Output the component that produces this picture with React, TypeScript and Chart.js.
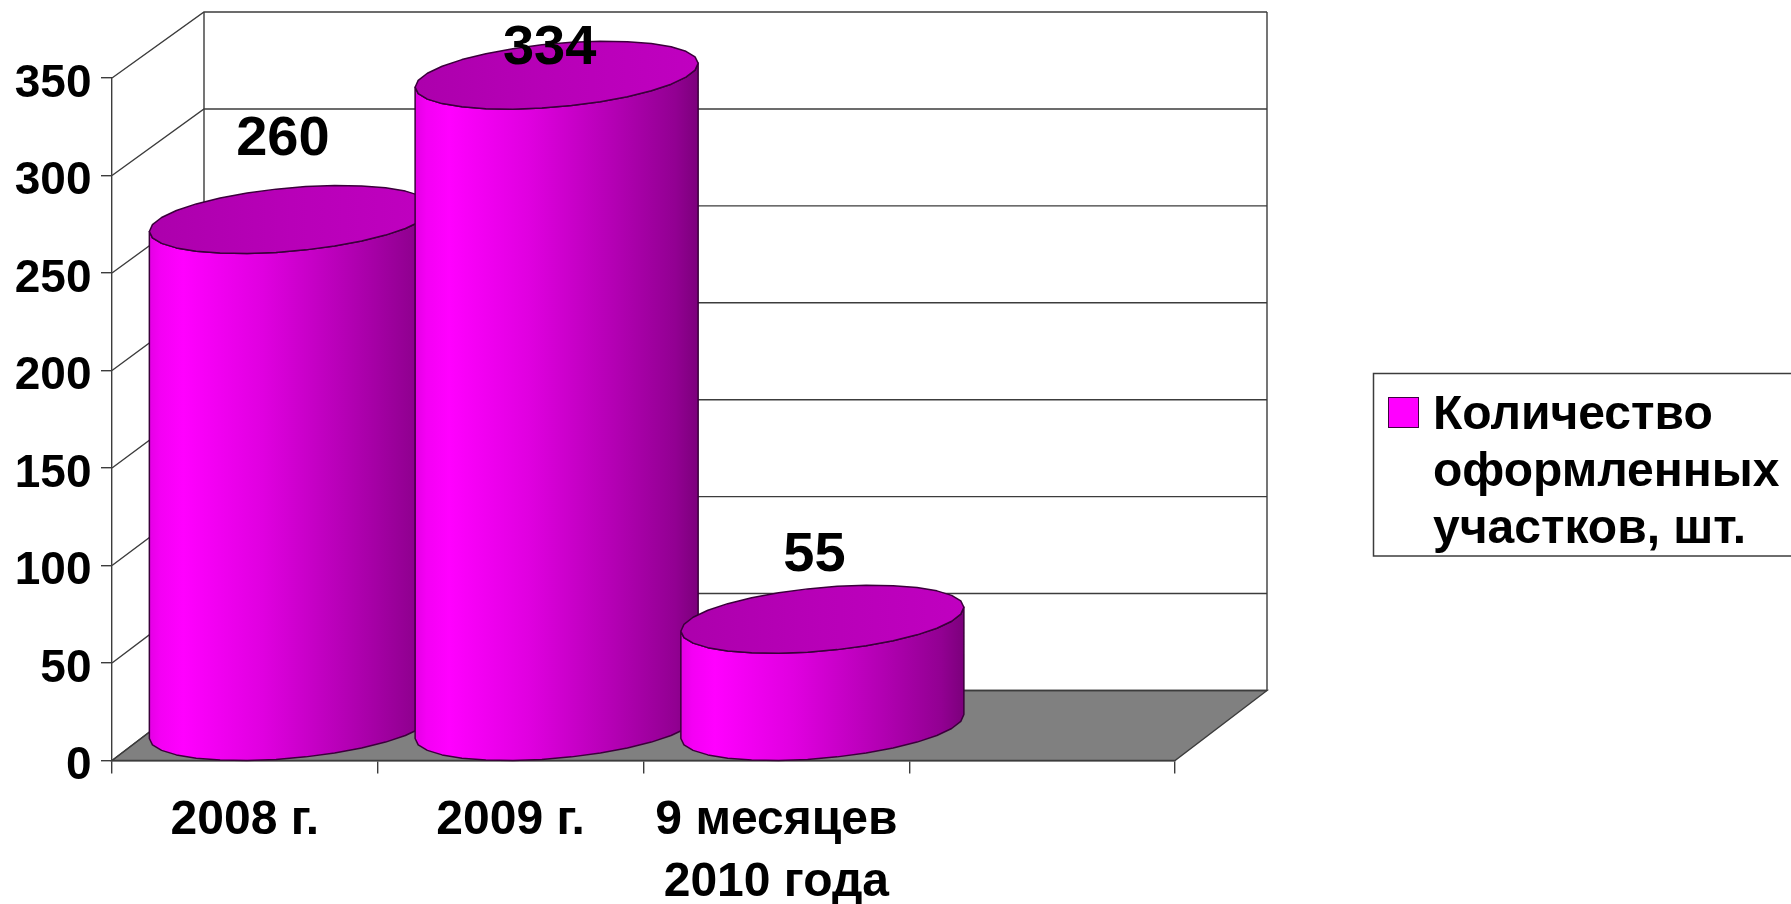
import React, { useEffect, useRef } from "react";
import { Chart, registerables } from "chart.js";

Chart.register(...registerables);

const categories: (string | string[])[] = ["2008 г.", "2009 г.", ["9 месяцев", "2010 года"], ""];
const seriesName = ["Количество", "оформленных", "участков, шт."];
const values: (number | null)[] = [260, 334, 55, null];
const valueLabels = ["260", "334", "55", ""];
const yMax = 350;
const yStep = 50;

// Placement and style constants (not data)
const W = 1791;
const H = 904;
const DEPTH_X = 92;
const DEPTH_Y_BOTTOM = 70;
const DEPTH_Y_TOP = 66;
const LABEL_LIFT = [99, 45, 82, 0];
const FONT = "'Liberation Sans', Arial, sans-serif";
const LINE = "#3c3c3c";

const cylinderPlugin = {
  id: "cylinders3d",
  beforeDatasetsDraw(chart: any) {
    const { ctx, scales } = chart;
    const xs = scales.x;
    const ys = scales.y;
    const x0 = xs.left;
    const x1 = xs.right;
    const back = (v: number) =>
      ys.getPixelForValue(v) - (DEPTH_Y_BOTTOM + (DEPTH_Y_TOP - DEPTH_Y_BOTTOM) * (v / yMax));
    ctx.save();
    // floor
    ctx.beginPath();
    ctx.moveTo(x0, ys.getPixelForValue(0));
    ctx.lineTo(x0 + DEPTH_X, back(0));
    ctx.lineTo(x1 + DEPTH_X, back(0));
    ctx.lineTo(x1, ys.getPixelForValue(0));
    ctx.closePath();
    ctx.fillStyle = "#808080";
    ctx.fill();
    ctx.strokeStyle = LINE;
    ctx.lineWidth = 1.4;
    ctx.stroke();
    // walls
    for (const t of ys.ticks) {
      const v = t.value;
      ctx.beginPath();
      ctx.moveTo(x0, ys.getPixelForValue(v));
      ctx.lineTo(x0 + DEPTH_X, back(v));
      ctx.lineTo(x1 + DEPTH_X, back(v));
      ctx.stroke();
    }
    ctx.beginPath();
    ctx.moveTo(x0 + DEPTH_X, back(0));
    ctx.lineTo(x0 + DEPTH_X, back(yMax));
    ctx.moveTo(x1 + DEPTH_X, back(0));
    ctx.lineTo(x1 + DEPTH_X, back(yMax));
    ctx.stroke();
    ctx.restore();
  },
  afterDatasetsDraw(chart: any) {
    const { ctx, scales } = chart;
    const ys = scales.y;
    const meta = chart.getDatasetMeta(0);
    const base = ys.getPixelForValue(0);
    const SHEAR = 12;
    const HALF_H = 31.8;
    const SEG = 15;
    meta.data.forEach((el: any, i: number) => {
      if (values[i] == null) return;
      const a = el.width / 2;
      const cx = el.x + DEPTH_X / 2;
      const topC = el.y - 34;
      const botC = base - 34;
      const px = (t: number) => cx + a * Math.cos(t);
      const py = (t: number, c: number) => c + HALF_H * Math.sin(t) - SHEAR * Math.cos(t);
      const side = ctx.createLinearGradient(cx - a, 0, cx + a, 0);
      side.addColorStop(0, "#e400e4");
      side.addColorStop(0.04, "#f400f4");
      side.addColorStop(0.12, "#ff00ff");
      side.addColorStop(0.4, "#e000e0");
      side.addColorStop(0.7, "#b400b4");
      side.addColorStop(0.92, "#920092");
      side.addColorStop(1, "#7c007c");
      ctx.save();
      ctx.lineJoin = "round";
      ctx.beginPath();
      ctx.moveTo(px(Math.PI), py(Math.PI, topC));
      for (let k = 0; k <= SEG; k++) {
        const t = Math.PI - (Math.PI * k) / SEG;
        ctx.lineTo(px(t), py(t, topC));
      }
      for (let k = 0; k <= SEG; k++) {
        const t = (Math.PI * k) / SEG;
        ctx.lineTo(px(t), py(t, botC));
      }
      ctx.closePath();
      ctx.fillStyle = side;
      ctx.fill();
      ctx.strokeStyle = "#3a003a";
      ctx.lineWidth = 1.5;
      ctx.stroke();
      const cap = ctx.createLinearGradient(cx - a, 0, cx + a, 0);
      cap.addColorStop(0, "#ac00ac");
      cap.addColorStop(0.5, "#b800b8");
      cap.addColorStop(1, "#c000c0");
      ctx.beginPath();
      for (let k = 0; k < SEG * 2; k++) {
        const t = (Math.PI * k) / SEG;
        if (k === 0) ctx.moveTo(px(t), py(t, topC));
        else ctx.lineTo(px(t), py(t, topC));
      }
      ctx.closePath();
      ctx.fillStyle = cap;
      ctx.fill();
      ctx.strokeStyle = "#3a003a";
      ctx.stroke();
      ctx.restore();
    });
    // value labels
    ctx.save();
    ctx.fillStyle = "#000";
    ctx.font = `bold 56px ${FONT}`;
    ctx.textAlign = "center";
    ctx.textBaseline = "alphabetic";
    meta.data.forEach((el: any, i: number) => {
      if (values[i] == null) return;
      ctx.fillText(valueLabels[i], el.x + (i === 1 ? 39 : 38), el.y - LABEL_LIFT[i]);
    });
    ctx.restore();
    // legend
    ctx.save();
    ctx.strokeStyle = LINE;
    ctx.lineWidth = 1.5;
    ctx.strokeRect(1373.5, 373.5, 500, 182.5);
    ctx.fillStyle = "#ff00ff";
    ctx.fillRect(1388.5, 397.5, 30, 30);
    ctx.strokeStyle = "#400040";
    ctx.lineWidth = 1;
    ctx.strokeRect(1388.5, 397.5, 30, 30);
    ctx.fillStyle = "#000";
    ctx.font = `bold 48px ${FONT}`;
    ctx.textAlign = "left";
    seriesName.forEach((line, i) => ctx.fillText(line, 1433, 429 + i * 57));
    ctx.restore();
  },
};

export default function App() {
  const ref = useRef<HTMLCanvasElement>(null);
  useEffect(() => {
    if (!ref.current) return;
    const chart = new Chart(ref.current, {
      type: "bar",
      data: {
        labels: categories,
        datasets: [
          {
            label: seriesName.join(" "),
            data: values,
            backgroundColor: "transparent",
            borderWidth: 0,
            categoryPercentage: 1,
            barPercentage: 1.065,
          },
        ],
      },
      options: {
        responsive: false,
        animation: false,
        layout: { padding: { top: 78, right: W - 1175, left: 0, bottom: 0 } },
        plugins: { legend: { display: false }, tooltip: { enabled: false } },
        scales: {
          x: {
            afterFit: (s: any) => {
              s.height = 143.5;
            },
            grid: {
              drawOnChartArea: false,
              drawTicks: true,
              tickLength: 13,
              color: LINE,
              lineWidth: 1.4,
            },
            border: { display: true, color: LINE, width: 1.4 },
            ticks: {
              color: "#000",
              maxRotation: 0,
              autoSkip: false,
              padding: 16,
              font: { family: FONT, weight: "bold", size: 48, lineHeight: 1.3 },
            },
          },
          y: {
            min: 0,
            max: yMax,
            afterFit: (s: any) => {
              s.width = 112;
            },
            grid: {
              drawOnChartArea: false,
              drawTicks: true,
              tickLength: 11,
              color: LINE,
              lineWidth: 1.4,
            },
            border: { display: true, color: LINE, width: 1.4 },
            ticks: {
              stepSize: yStep,
              color: "#000",
              padding: 9.5,
              // an empty first line with a small line height nudges the number below its tick
              callback: (v: any) => ["", String(v)],
              font: { family: FONT, weight: "bold", size: 46, lineHeight: 0.26 },
            },
          },
        },
      },
      plugins: [cylinderPlugin],
    } as any);
    return () => chart.destroy();
  }, []);
  return (
    <div style={{ position: "fixed", left: 0, top: 0, width: W, height: H, background: "#fff" }}>
      <canvas ref={ref} width={W} height={H} style={{ display: "block" }} />
    </div>
  );
}
